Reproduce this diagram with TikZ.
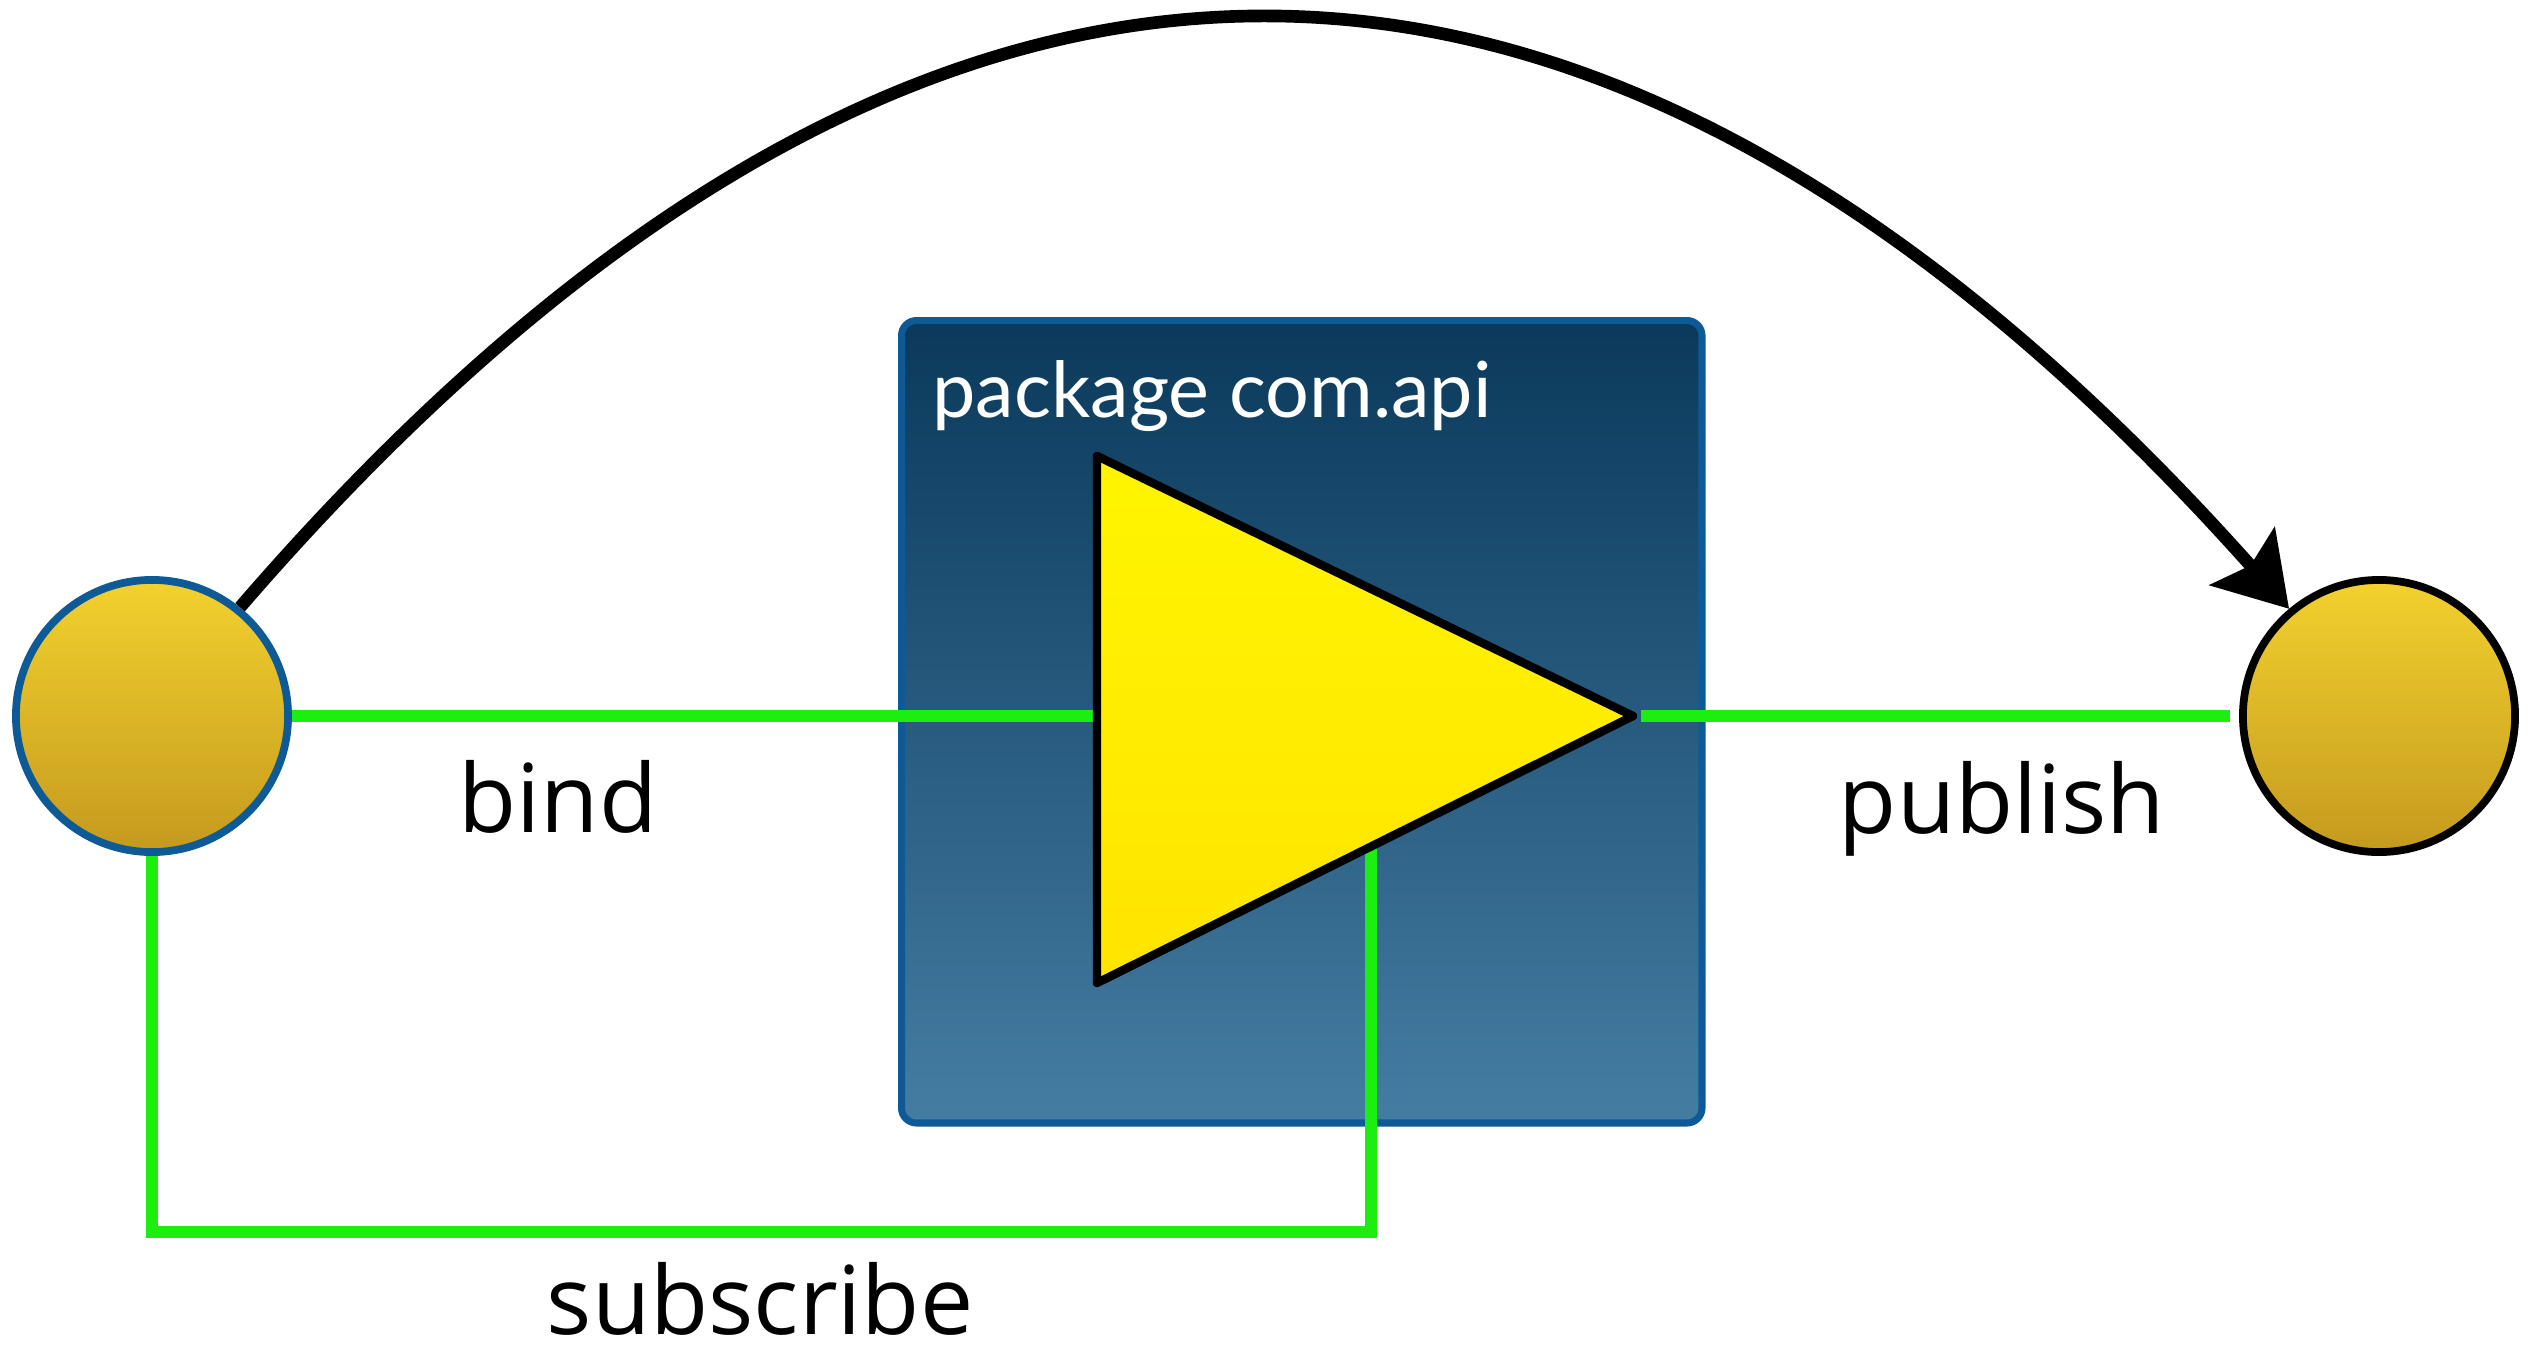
\documentclass[tikz,border=0pt]{standalone}
\usepackage{fontspec}
\setmainfont{Open Sans}
\newfontfamily\pkgfont{Lato}
\usepackage{tikz}
\usetikzlibrary{arrows.meta,calc,positioning}

\definecolor{ballTop}{HTML}{F3D12E}
\definecolor{ballBot}{HTML}{C49A1E}
\definecolor{boxTop}{HTML}{0A395B}
\definecolor{boxBot}{HTML}{457DA2}
\definecolor{boxEdge}{HTML}{0E5A96}
\definecolor{wireGreen}{HTML}{1CEE10}
\definecolor{triTop}{HTML}{FFF500}
\definecolor{triBot}{HTML}{FFE400}

\begin{document}
\begin{tikzpicture}[x=0.01cm,y=-0.01cm,
	ball/.style={circle,minimum size=2.72cm,inner sep=0pt,line width=2.2pt,top color=ballTop,bottom color=ballBot},
	pkgbox/.style={rectangle,minimum width=8cm,minimum height=8.02cm,inner sep=0pt,rounded corners=0.15cm,
		top color=boxTop,bottom color=boxBot,draw=boxEdge,line width=2pt},
	wire/.style={draw=wireGreen,line width=3.6pt},
	tri/.style={draw=black,line width=2.4pt,top color=triTop,bottom color=triBot,line join=round},
	arc/.style={draw=black,line width=3.6pt},
	lbl/.style={font=\fontsize{27}{32}\selectfont},
	pkgtxt/.style={text=white,font=\pkgfont\fontsize{22}{26}\selectfont},
	>={Stealth[length=0.7cm,width=0.86cm,inset=0.12cm]}]
	\useasboundingbox (0,0) rectangle (2536,1354);

	\node[pkgbox,anchor=north west] (pk) at (898,317) {};
	\node[pkgtxt,anchor=base west] (pt) at (920,417) {package com.api};

	\coordinate (ta) at (1097,456);
	\coordinate (tb) at (1097,983);
	\coordinate (tc) at (1633,716);
	\coordinate (sb) at (1371,1232);

	\node[ball,draw=boxEdge] (n1) at (152,716) {};
	\node[ball,draw=black] (n2) at (2379,716) {};

	\draw[wire] (n1.east) -- (ta |- n1);
	\draw[wire,shorten <=0.08cm,shorten >=0.09cm] (tc) -- (n2.west);
	\draw[wire] (n1.south) |- (sb) -- (sb |- tc);

	\path[tri] (ta) -- (tc) -- (tb) -- cycle;

	\draw[arc,->] (n1.51) .. controls (913,-172) and (1589,-177) .. (n2.130);

	\node[lbl] (bd) at (558,797) {bind};
	\node[lbl] (pb) at (2002,809) {publish};
	\node[lbl] (sc) at (760,1299) {subscribe};
\end{tikzpicture}
\end{document}
